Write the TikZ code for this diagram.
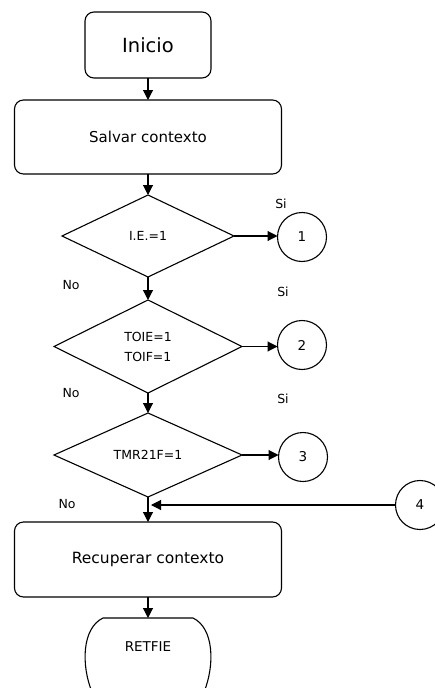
\documentclass[tikz,border=0pt]{standalone}
\usepackage{fontspec}
\setmainfont{DejaVu Sans}
\usetikzlibrary{shapes.geometric,arrows.meta}
\begin{document}
\begin{tikzpicture}[x=1pt,y=-1pt,
  line width=1.1pt,
  every node/.style={inner sep=0pt, outer sep=0pt},
  arr/.style={-{Triangle[length=10pt,width=10pt]}},
  procbox/.style={draw, rounded corners=9pt, line width=1.1pt},
  decision/.style={draw, diamond, line width=1.1pt},
  conn/.style={draw, circle, minimum size=49pt, line width=1.1pt, font=\fontsize{13.5}{15}\selectfont},
  lbl/.style={font=\fontsize{12.5}{14}\selectfont},
  dtext/.style={font=\fontsize{12.5}{14}\selectfont, align=center}
]
\useasboundingbox (0,0) rectangle (434,688);

\node[procbox, minimum width=126pt, minimum height=66pt, font=\fontsize{19.5}{22}\selectfont] (ini) at (148,45) {Inicio};
\node[procbox, minimum width=267pt, minimum height=74pt, font=\fontsize{15}{18}\selectfont] (sal) at (148,137) {Salvar contexto};

\node[decision, minimum width=172pt, minimum height=82pt, dtext] (d1) at (148,236) {I.E.=1};
\node[decision, minimum width=188pt, minimum height=93pt, dtext] (d2) at (148,346.5) {TOIE=1\\[6pt]TOIF=1};
\node[decision, minimum width=188pt, minimum height=84pt, dtext] (d3) at (148,455) {TMR21F=1};

\node[conn] (c1) at (302,237) {1};
\node[conn] (c2) at (302,345) {2};
\node[conn] (c3) at (303,457) {3};
\node[conn] (c4) at (420,505) {4};

\node[procbox, minimum width=267pt, minimum height=75pt, font=\fontsize{15.5}{18}\selectfont] (rec) at (148,559.5) {Recuperar contexto};

% RETFIE terminal (bottom cut by the page)
\draw (92,692) .. controls (81,665) and (82,628) .. (103,618) -- (193,618) .. controls (214,628) and (215,665) .. (204,692);
\coordinate (rettop) at (148,618);
\node[font=\fontsize{13.5}{16}\selectfont] (ret) at (148,647) {RETFIE};

% labels
\node[lbl] (si1) at (281,204) {Si};
\node[lbl] (si2) at (283,292) {Si};
\node[lbl] (si3) at (283,399) {Si};
\node[lbl] (no1) at (71,285) {No};
\node[lbl] (no2) at (71,393) {No};
\node[lbl] (no3) at (67,504) {No};

% connectors
\draw[arr] (ini.south) -- (sal.north);
\draw[arr] (sal.south) -- (d1.north);
\draw[arr] (d1.south) -- (d2.north);
\draw[arr] (d2.south) -- (d3.north);
\draw[arr] (d3.south) -- (rec.north);
\draw[arr] (rec.south) -- (rettop);
\draw[arr] (d1.east) -- (c1.west |- d1.east);
\draw[arr] (d2.east) -- (c2.west |- d2.east);
\draw[arr] (d3.east) -- (c3.west |- d3.east);
\coordinate (j4) at (151,505);
\draw[arr] (c4.west) -- (j4);
\end{tikzpicture}
\end{document}
